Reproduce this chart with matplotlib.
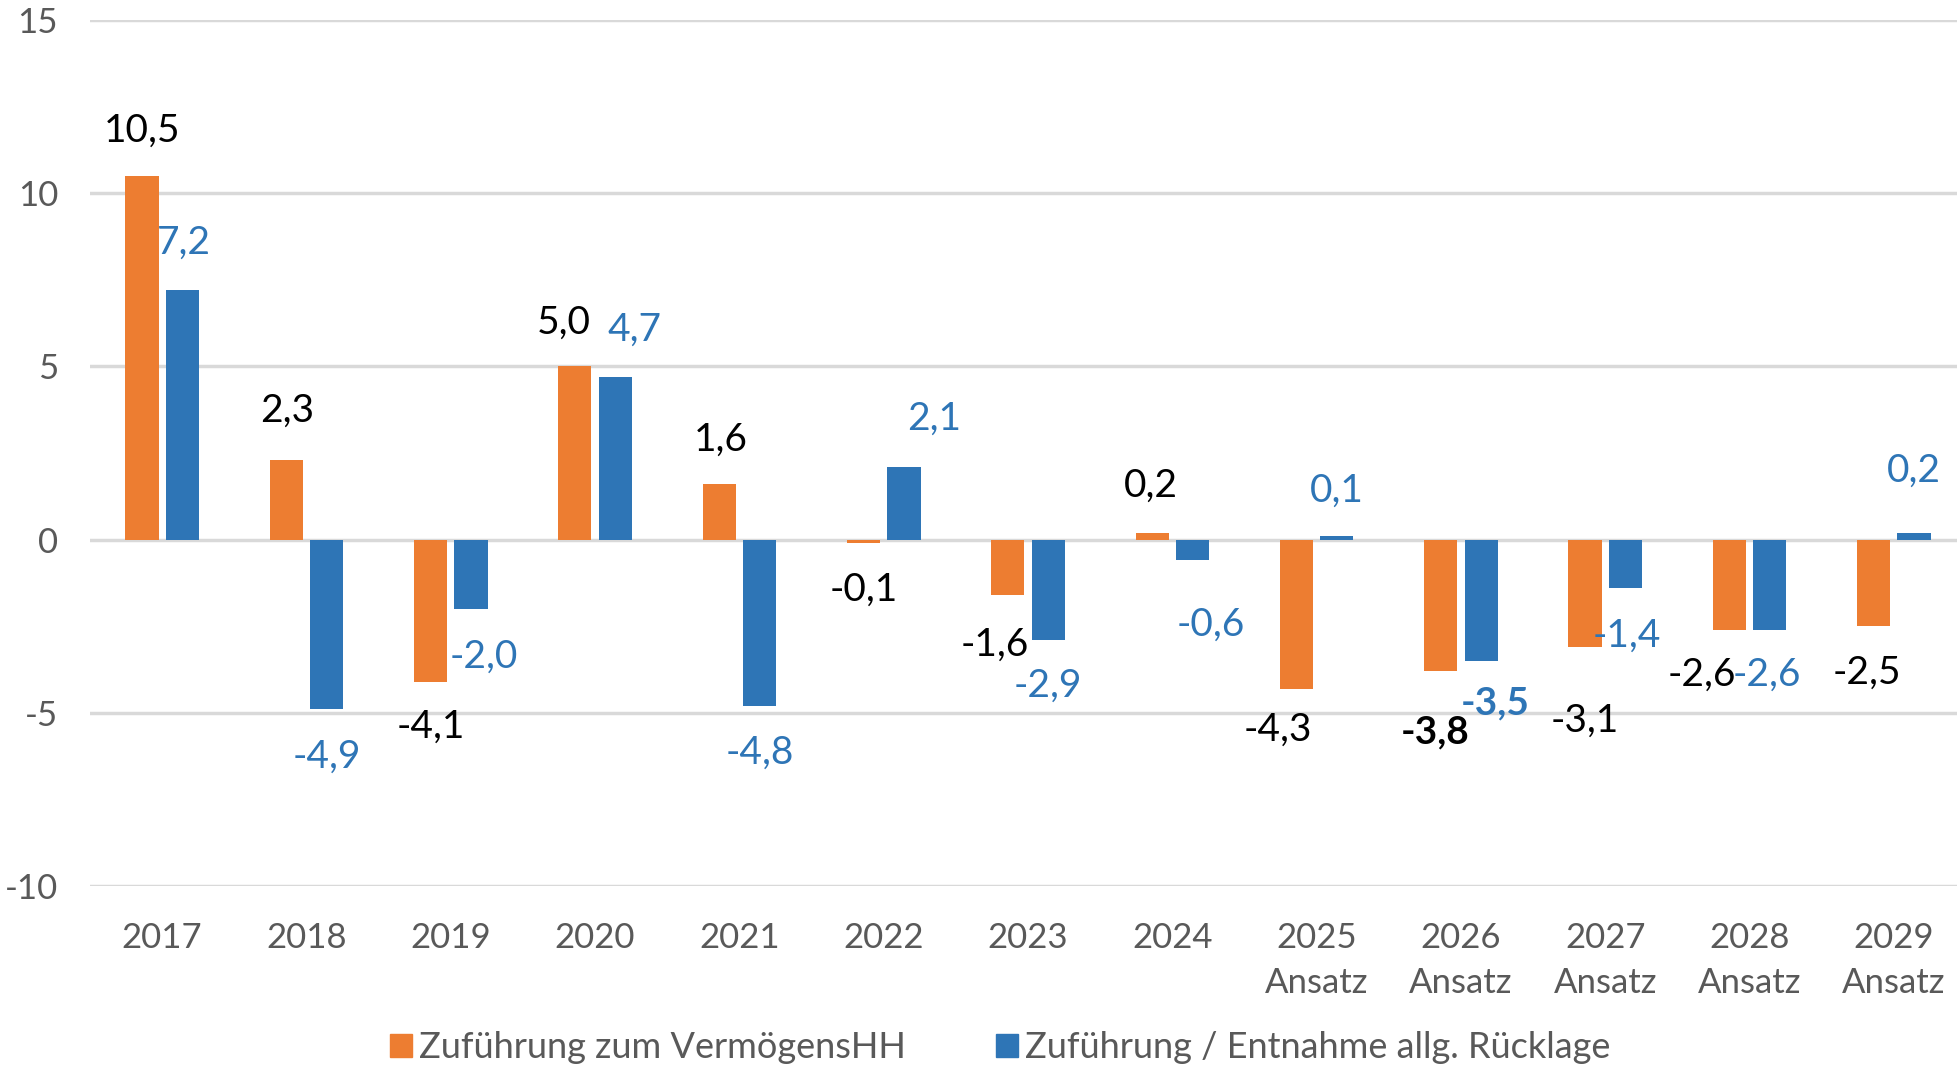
import matplotlib.pyplot as plt
from matplotlib.patches import Patch
import numpy as np

plt.rcParams['font.family'] = ['Lato', 'DejaVu Sans']

years = ['2017', '2018', '2019', '2020', '2021', '2022', '2023', '2024',
         '2025\nAnsatz', '2026\nAnsatz', '2027\nAnsatz', '2028\nAnsatz', '2029\nAnsatz']
vermoegen = [10.5, 2.3, -4.1, 5.0, 1.6, -0.1, -1.6, 0.2, -4.3, -3.8, -3.1, -2.6, -2.5]
ruecklage = [7.2, -4.9, -2.0, 4.7, -4.8, 2.1, -2.9, -0.6, 0.1, -3.5, -1.4, -2.6, 0.2]
bold_idx = [9]

# label placement (x offset in categories, y in data units), as in the Excel chart
v_lbl_dx = [-0.14, -0.135, -0.14, -0.22, -0.13, -0.14, -0.23, -0.15, -0.27, -0.18, -0.14, -0.33, -0.19]
v_lbl_y = [11.8, 3.71, -5.4, 6.27, 2.88, -1.44, -3.03, 1.55, -5.48, -5.55, -5.22, -3.89, -3.85]
r_lbl_dx = [0.15, 0.14, 0.23, 0.27, 0.14, 0.35, 0.14, 0.27, 0.14, 0.24, 0.15, 0.12, 0.14]
r_lbl_y = [8.57, -6.27, -3.39, 6.05, -6.16, 3.49, -4.21, -2.45, 1.40, -4.72, -2.77, -3.89, 1.98]

orange = '#ED7D31'
blue = '#2E75B6'
gray = '#595959'

fig = plt.figure(figsize=(19.57, 10.68), dpi=100)
ax = fig.add_axes([0.046, 0.1704, 0.9586, 0.8109])

x = np.arange(len(years))
w = 0.23
off = 0.14
ax.bar(x - off, vermoegen, w, color=orange, zorder=3)
ax.bar(x + off, ruecklage, w, color=blue, zorder=3)

for i in range(len(years)):
    fw = 'bold' if i in bold_idx else 'normal'
    ax.text(i + v_lbl_dx[i], v_lbl_y[i], f'{vermoegen[i]:.1f}'.replace('.', ','),
            ha='center', va='center', fontsize=28, color='black', fontweight=fw)
    ax.text(i + r_lbl_dx[i], r_lbl_y[i], f'{ruecklage[i]:.1f}'.replace('.', ','),
            ha='center', va='center', fontsize=28, color=blue, fontweight=fw)

ax.set_xlim(-0.5, len(years) - 0.5)
ax.set_ylim(-10, 15)
ax.set_yticks([-10, -5, 0, 5, 10, 15])
ax.set_yticklabels(['-10', '-5', '0', '5', '10', '15'])
ax.set_xticks(x)
ax.set_xticklabels(years, linespacing=1.5)
ax.tick_params(axis='both', length=0, labelsize=25, labelcolor=gray)
ax.tick_params(axis='x', pad=26)
ax.tick_params(axis='y', pad=23)
ax.grid(axis='y', color='#D9D9D9', linewidth=2.5, zorder=0)
for s in ax.spines.values():
    s.set_visible(False)

handles = [Patch(color=orange, label='Zuführung zum VermögensHH'),
           Patch(color=blue, label='Zuführung / Entnahme allg. Rücklage')]
leg = fig.legend(handles=handles, loc='center', bbox_to_anchor=(0.511, 0.019), ncol=2,
                 frameon=False, fontsize=26, handlelength=0.62, handleheight=0.62,
                 handletextpad=0.18, columnspacing=2.5)
for t in leg.get_texts():
    t.set_color(gray)

fig.savefig('out.png', dpi=100)
